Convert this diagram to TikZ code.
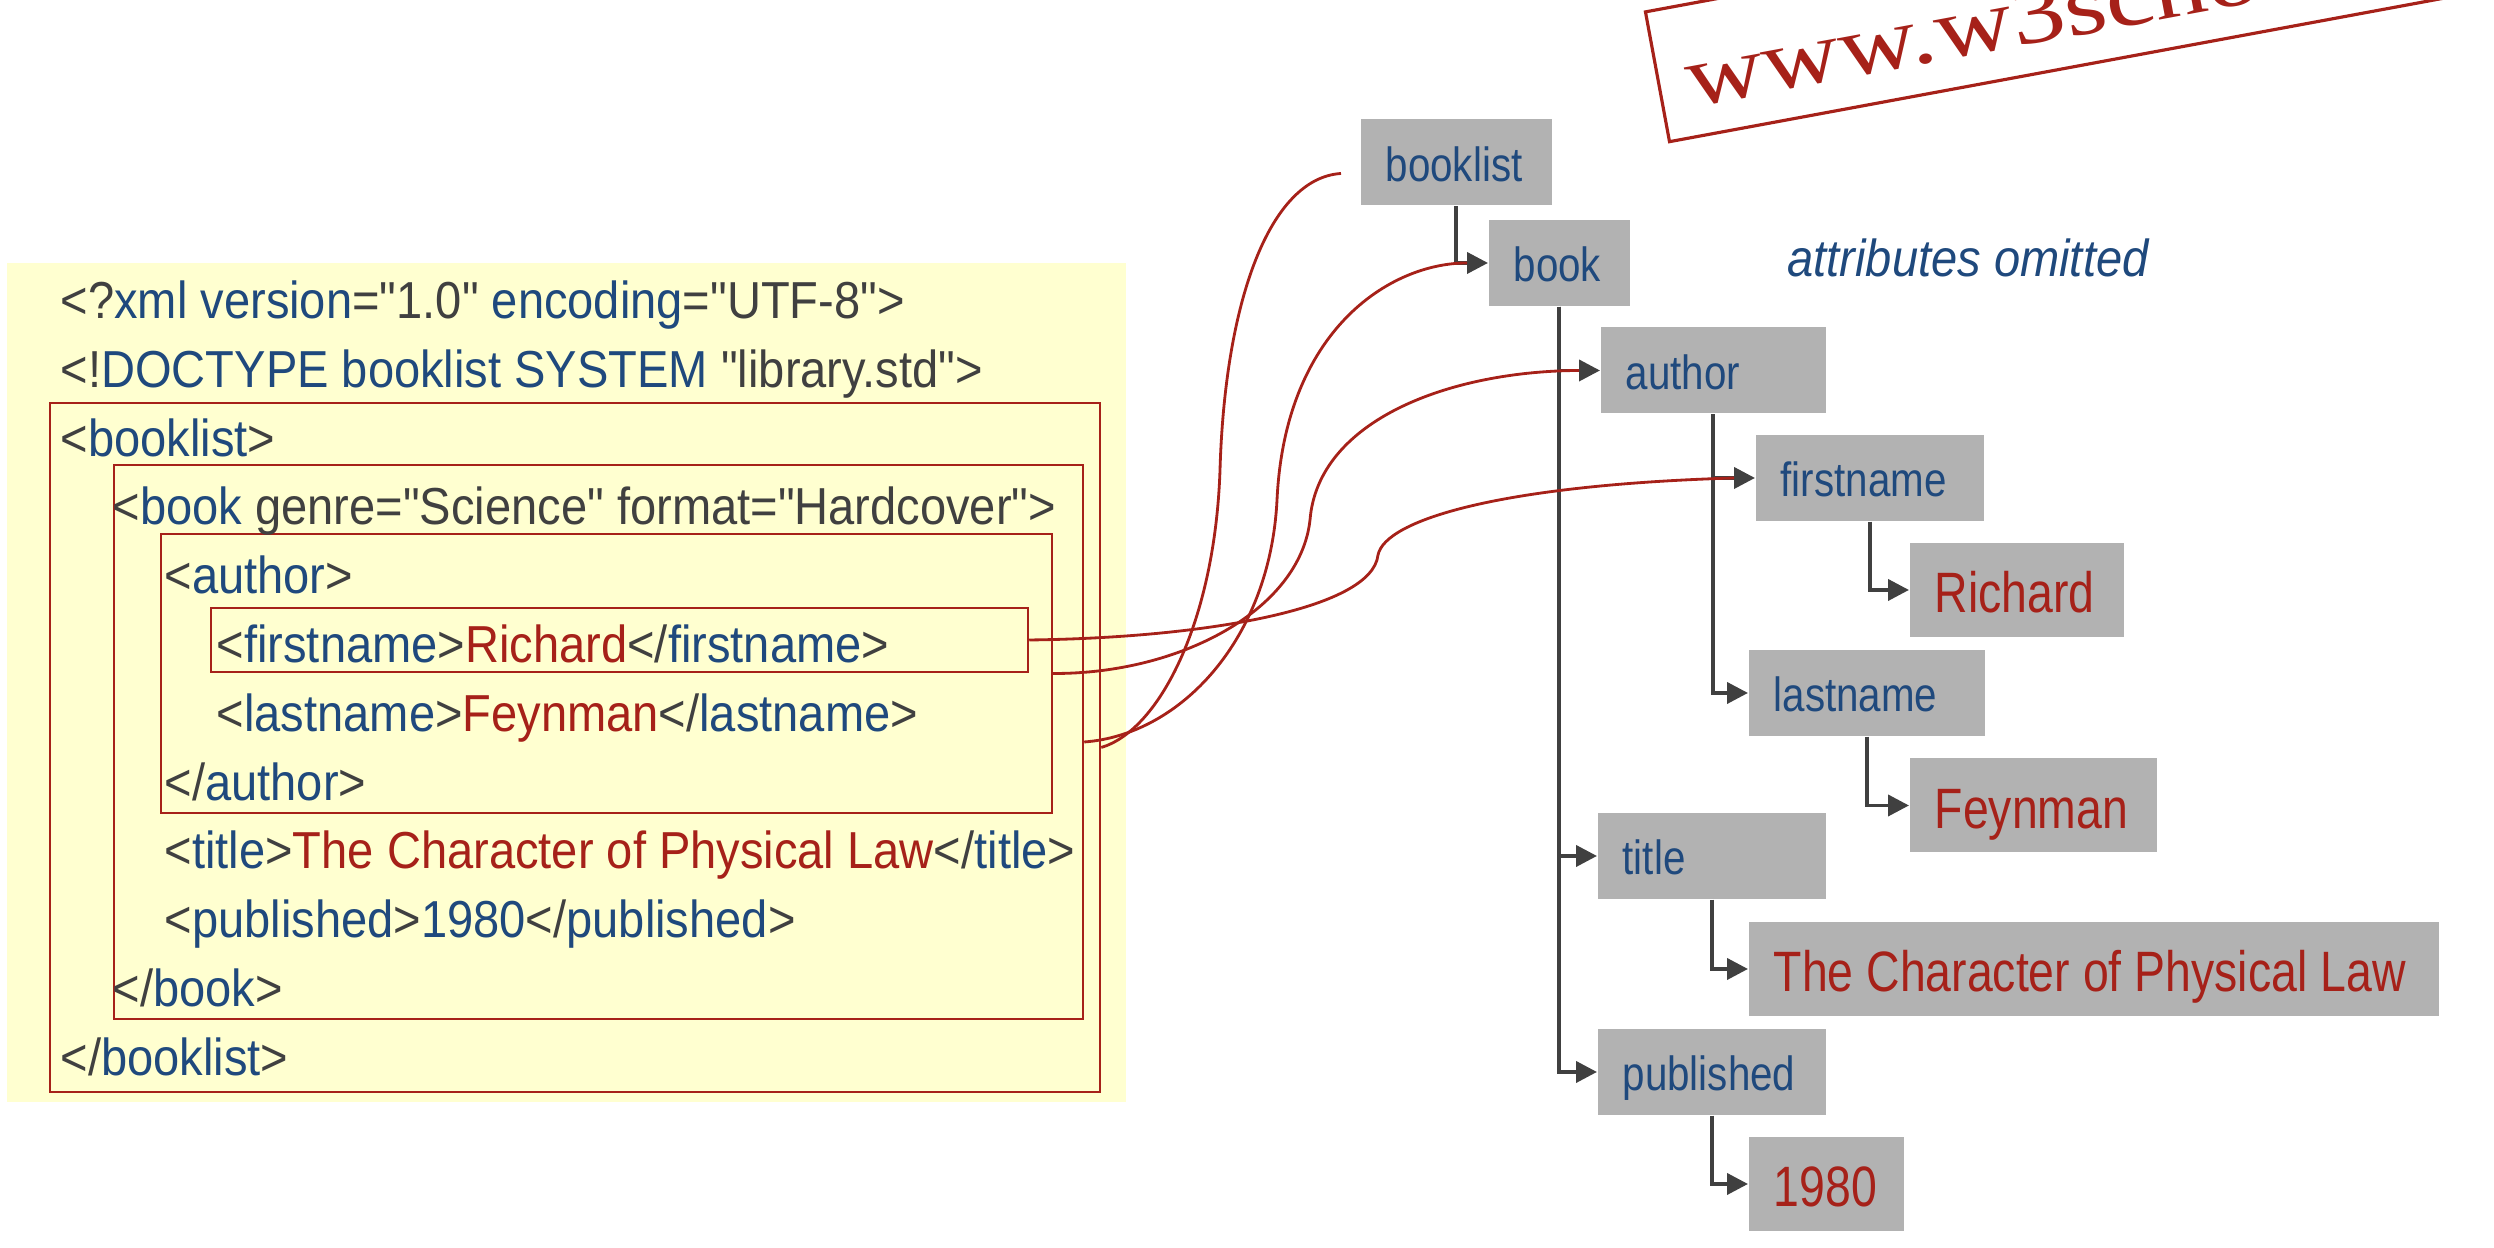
\documentclass[tikz,border=0pt]{standalone}
\usepackage{fontspec}
\setmainfont{Liberation Sans}
\newfontfamily\codefont{Liberation Sans}[FakeStretch=0.905]
\newfontfamily\treefont{Liberation Sans}[FakeStretch=0.84]
\newfontfamily\valfont{Liberation Sans}[FakeStretch=0.815]
\newfontfamily\stampfont{Liberation Serif}[FakeStretch=1.23]
\usetikzlibrary{arrows.meta}

\definecolor{xmlblue}{RGB}{31,73,125}
\definecolor{xmlgray}{RGB}{64,64,64}
\definecolor{xmlred}{RGB}{166,33,25}
\definecolor{paleyellow}{RGB}{255,255,208}
\definecolor{nodegray}{RGB}{178,178,178}

\newcommand{\pun}[1]{\textcolor{xmlgray}{#1}}
\newcommand{\nam}[1]{\textcolor{xmlblue}{#1}}
\newcommand{\val}[1]{\textcolor{xmlred}{#1}}

\tikzset{
  codeline/.style={anchor=base west, inner sep=0pt,
    font=\codefont\fontsize{14.8}{17}\selectfont},
  xbox/.style={draw=xmlred, line width=0.7pt},
  elemnode/.style={anchor=west, fill=nodegray, inner xsep=0.25cm, inner ysep=0pt,
    minimum height=0.86cm, align=flush left, text height=0.45cm, text depth=0.07cm,
    text=xmlblue, font=\treefont\fontsize{13.66}{16}\selectfont},
  valnode/.style={elemnode, minimum height=0.94cm, text height=0.52cm,
    text depth=0.06cm, text=xmlred, font=\valfont\fontsize{16.2}{19}\selectfont},
  subarrow/.style={draw=xmlgray, line width=1.1pt,
    -{Triangle[length=0.21cm,width=0.21cm]}},
  xmllink/.style={draw=xmlred, line width=0.8pt},
}

\begin{document}
\begin{tikzpicture}
  \useasboundingbox (0,0) rectangle (24.94,12.48);
  \clip (0,0) rectangle (24.94,12.48);

  % the document
  \fill[paleyellow] (0.07,1.46) rectangle (11.26,9.85);
  \node[xbox, minimum width=10.50cm, minimum height=6.89cm] (xbooklist) at (5.750,5.005) {};
  \node[xbox, minimum width=9.69cm, minimum height=5.54cm] (xbook) at (5.985,5.060) {};
  \node[xbox, minimum width=8.91cm, minimum height=2.79cm] (xauthor) at (6.065,5.745) {};
  \node[xbox, minimum width=8.17cm, minimum height=0.64cm] (xfirst) at (6.195,6.080) {};

  \node[codeline] (l1) at (0.60,9.294) {\pun{<?}\nam{xml version}\pun{="1.0"} \nam{encoding}\pun{="UTF-8">}};
  \node[codeline] (l2) at (0.60,8.606) {\pun{<!}\nam{DOCTYPE booklist SYSTEM} \pun{"library.std">}};
  \node[codeline] (l3) at (0.60,7.918) {\pun{<}\nam{booklist}\pun{>}};
  \node[codeline] (l4) at (1.12,7.230) {\pun{<}\nam{book} \pun{genre="Science" format="Hardcover">}};
  \node[codeline] (l5) at (1.64,6.542) {\pun{<}\nam{author}\pun{>}};
  \node[codeline] (l6) at (2.16,5.854) {\pun{<}\nam{firstname}\pun{>}\val{Richard}\pun{</}\nam{firstname}\pun{>}};
  \node[codeline] (l7) at (2.16,5.166) {\pun{<}\nam{lastname}\pun{>}\val{Feynman}\pun{</}\nam{lastname}\pun{>}};
  \node[codeline] (l8) at (1.64,4.478) {\pun{</}\nam{author}\pun{>}};
  \node[codeline] (l9) at (1.64,3.790) {\pun{<}\nam{title}\pun{>}\val{The Character of Physical Law}\pun{</}\nam{title}\pun{>}};
  \node[codeline] (l10) at (1.64,3.102) {\pun{<}\nam{published}\pun{>}\nam{1980}\pun{</}\nam{published}\pun{>}};
  \node[codeline] (l11) at (1.12,2.414) {\pun{</}\nam{book}\pun{>}};
  \node[codeline] (l12) at (0.60,1.726) {\pun{</}\nam{booklist}\pun{>}};

  % the tree
  \node[elemnode, text width=1.41cm] (tbooklist) at (13.60,10.855) {booklist};
  \node[elemnode, text width=0.91cm] (tbook) at (14.88,9.850) {book};
  \node[elemnode, text width=1.75cm] (tauthor) at (16.00,8.775) {author};
  \node[elemnode, text width=1.78cm] (tfirst) at (17.55,7.700) {firstname};
  \node[valnode, text width=1.64cm] (trichard) at (19.09,6.580) {Richard};
  \node[elemnode, text width=1.86cm] (tlast) at (17.48,5.550) {lastname};
  \node[valnode, text width=1.97cm] (tfeyn) at (19.09,4.425) {Feynman};
  \node[elemnode, text width=1.78cm] (ttitle) at (15.97,3.920) {title};
  \node[valnode, text width=6.40cm] (tchar) at (17.48,2.790) {\mbox{The Character of Physical Law}};
  \node[elemnode, text width=1.78cm] (tpub) at (15.97,1.760) {published};
  \node[valnode, text width=1.05cm] (tyear) at (17.48,0.640) {1980};

  \node[text=xmlblue, font=\codefont\itshape\fontsize{14.8}{17}\selectfont] (note) at (19.68,9.90) {attributes omitted};

  \draw[subarrow] (tbooklist.south) |- (tbook.west);
  \draw[subarrow] (tbook.south) |- (tauthor.west);
  \draw[subarrow] (tbook.south) |- (ttitle.west);
  \draw[subarrow] (tbook.south) |- (tpub.west);
  \draw[subarrow] (tauthor.south) |- (tfirst.west);
  \draw[subarrow] (tauthor.south) |- (tlast.west);
  \draw[subarrow] (tfirst.south) |- (trichard.west);
  \draw[subarrow] (tlast.south) |- (tfeyn.west);
  \draw[subarrow] (ttitle.south) |- (tchar.west);
  \draw[subarrow] (tpub.south) |- (tyear.west);

  % box to element
  \draw[xmllink] (xfirst.east) .. controls (12.00,6.10) and (13.72,6.38) .. (13.78,6.93)
    .. controls (13.85,7.28) and (15.00,7.63) .. ([xshift=-0.21cm]tfirst.west);
  \draw[xmllink] (xauthor.east) .. controls (11.80,5.74) and (13.00,6.38) .. (13.10,7.28)
    .. controls (13.18,8.28) and (14.50,8.77) .. ([xshift=-0.21cm]tauthor.west);
  \draw[xmllink] (xbook.east) .. controls (11.80,5.13) and (12.70,6.08) .. (12.77,7.48)
    .. controls (12.85,9.18) and (13.90,9.85) .. ([xshift=-0.21cm]tbook.west);
  \draw[xmllink] (xbooklist.east) .. controls (11.60,5.18) and (12.15,6.28) .. (12.20,7.78)
    .. controls (12.25,9.48) and (12.70,10.70) .. ([xshift=-0.19cm,yshift=-0.11cm]tbooklist.west);

  % stamp
  \begin{scope}[shift={(16.695,11.063)}, rotate=10.5]
    \draw[xmlred, line width=0.9pt] (0,0) rectangle (10,1.32);
    \node[anchor=base west, inner sep=0pt, transform shape, text=xmlred,
      font=\stampfont\fontsize{24.9}{28}\selectfont] (stamp) at (0.27,0.30) {www.w3schools.com};
  \end{scope}
\end{tikzpicture}
\end{document}
